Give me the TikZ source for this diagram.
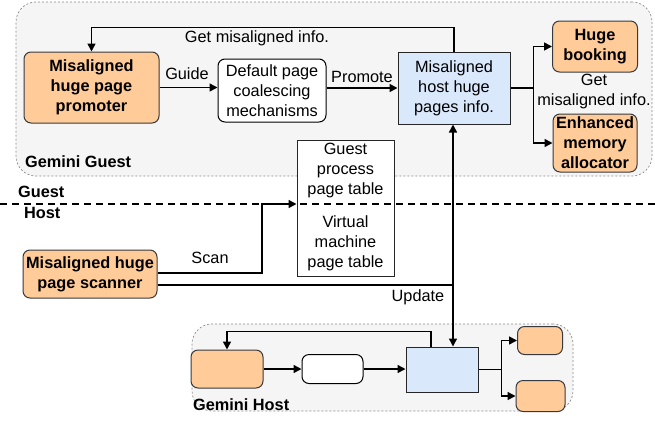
\documentclass[tikz,border=0pt]{standalone}
\usepackage{fontspec}
\setmainfont{Liberation Sans}
\usetikzlibrary{arrows.meta}
\definecolor{orfill}{HTML}{FFCC99}
\definecolor{orline}{HTML}{36393D}
\definecolor{blfill}{HTML}{DAE8FC}
\definecolor{ctfill}{HTML}{F5F5F5}
\definecolor{ctline}{HTML}{8C8C8C}
\begin{document}
\begin{tikzpicture}[x=1pt,y=-1pt,
  every node/.style={font=\fontsize{16.3}{20}\selectfont, align=center, inner sep=0pt},
  container/.style={draw=ctline, fill=ctfill, line width=0.7pt, dash pattern=on 2pt off 2pt, rounded corners=20pt},
  orbox/.style={draw=orline, fill=orfill, line width=1pt, rounded corners=7pt, font=\fontsize{16.3}{20}\selectfont\bfseries},
  whbox/.style={draw=black, fill=white, line width=1pt, rounded corners=7pt},
  blbox/.style={draw=black!85, fill=blfill, line width=1pt},
  ptbox/.style={draw=black!85, fill=white, line width=1pt},
  lbl/.style={font=\fontsize{16.3}{20}\selectfont\bfseries},
  conn/.style={line width=1.5pt},
  arr/.style={line width=1.5pt, -{Triangle[length=8pt,width=8pt]}}]
\useasboundingbox (0,0) rectangle (655,421);

% containers
\node[container, minimum width=636pt, minimum height=174pt] (guest) at (334,89) {};
\node[container, minimum width=381pt, minimum height=87pt] (host) at (382.5,367.5) {};
\node[lbl, anchor=west] (guestlbl) at (25,162) {Gemini Guest};
\node[lbl, anchor=west] (hostlbl) at (193,405) {Gemini Host};

% guest nodes
\node[orbox, minimum width=135pt, minimum height=71pt] (prom) at (91.5,87.5) {Misaligned\\huge page\\promoter};
\node[whbox, minimum width=108pt, minimum height=63pt] (def) at (272,90.5) {Default page\\coalescing\\mechanisms};
\node[blbox, minimum width=112pt, minimum height=72pt] (blue) at (454,88) {Misaligned\\host huge\\pages info.};
\node[orbox, minimum width=85pt, minimum height=51pt] (huge) at (595,46.5) {Huge\\booking};
\node[orbox, minimum width=84pt, minimum height=58pt] (enh) at (595,143) {Enhanced\\memory\\allocator};

% page table
\node[ptbox, minimum width=97pt, minimum height=136pt] (pt) at (345.5,208) {};
\node (ptg) at (345.5,170) {Guest\\process\\page table};
\node (ptv) at (345.5,243) {Virtual\\machine\\page table};

% separator
\coordinate (sepL) at (0,204);
\coordinate (sepR) at (655,204);
\draw[line width=2pt, dash pattern=on 7pt off 5pt] (sepL) -- (sepR);
\node[lbl, anchor=west] (guestsep) at (18,192) {Guest};
\node[lbl, anchor=west] (hostsep) at (24,213) {Host};

% scanner
\node[orbox, minimum width=134pt, minimum height=48pt] (scan) at (90,274) {Misaligned huge\\page scanner};

% host nodes
\node[orbox, minimum width=72pt, minimum height=38pt] (hprom) at (227,369) {};
\node[whbox, minimum width=61pt, minimum height=29pt] (hdef) at (332.5,369) {};
\node[blbox, minimum width=72pt, minimum height=45pt] (hblue) at (442,369.5) {};
\node[orbox, minimum width=45pt, minimum height=28pt] (hhuge) at (540,340.5) {};
\node[orbox, minimum width=49pt, minimum height=31pt] (henh) at (540.5,396) {};

% guest connectors
\draw[arr] (prom.east) -- (prom.east -| def.west);
\node (guide) at (187,74) {Guide};
\draw[arr] (def.east |- blue.west) -- (blue.west);
\node (promote) at (362,77) {Promote};
\draw[arr] (blue.north) -- ++(0,-24) -| (prom.north);
\node (getinfo) at (257,38) {Get misaligned info.};
\draw[conn] (blue.east) -- ++(23,0) coordinate (fork);
\draw[arr] (fork) |- (huge.west);
\draw[arr] (fork) |- (enh.west);
\node (getinfo2) at (594,91) {Get\\misaligned info.};

% scan / update
\coordinate (scanbend) at (262,273);
\draw[arr] ([yshift=1pt]scan.east) -- (scanbend) |- (pt.west |- sepL);
\node (scanlbl) at (210,258) {Scan};
\coordinate (upd) at (453,285);
\draw[conn] ([yshift=-11pt]scan.east) -- (upd);
\draw[arr] (upd) -- (upd |- blue.south);
\draw[arr] (upd) -- (upd |- hblue.north);
\node (updlbl) at (418,297) {Update};

% host connectors
\draw[arr] (hprom.east) -- (hdef.west);
\draw[arr] (hdef.east) -- (hblue.west |- hdef.east);
\draw[arr] ([xshift=-11pt]hblue.north) -- ++(0,-15) -| (hprom.north);
\draw[conn] (hblue.east) -- ++(23,0) coordinate (hfork);
\draw[arr] (hfork) |- (hhuge.west);
\draw[arr] (hfork) |- (henh.west);
\end{tikzpicture}
\end{document}
